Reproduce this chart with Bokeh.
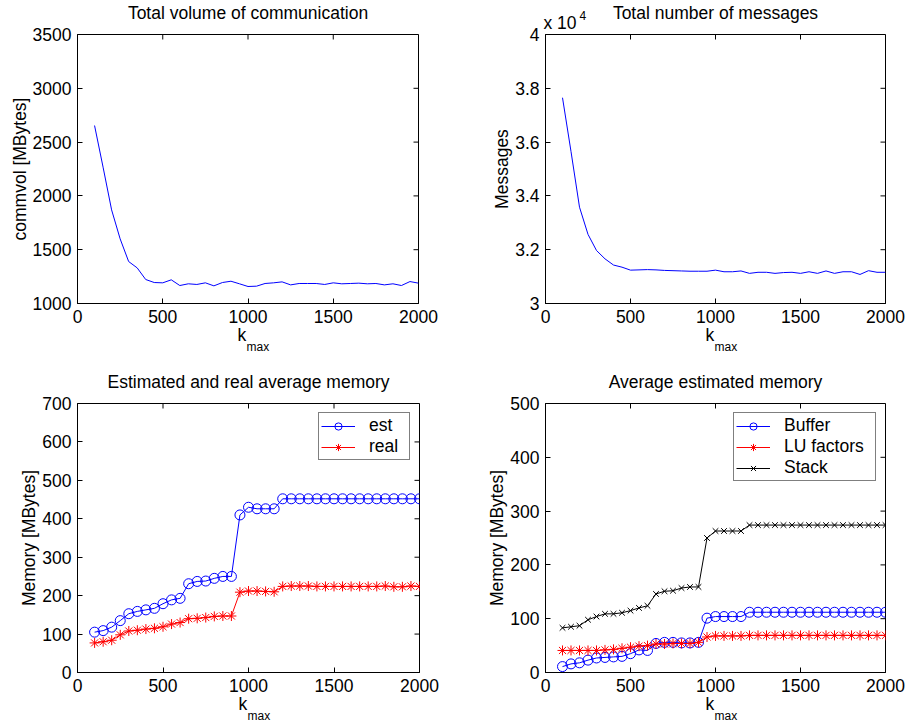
import math
from bokeh.plotting import figure
from bokeh.layouts import column, row
from bokeh.models import Range1d, FixedTicker, Label, Title, CustomJSTickFormatter
from bokeh.embed import file_html
from bokeh.resources import INLINE

# ---- data -------------------------------------------------------------
k_max = [100, 150, 200, 250, 300, 350, 400, 450, 500, 550, 600, 650, 700,
         750, 800, 850, 900, 950, 1000, 1050, 1100, 1150, 1200, 1250, 1300,
         1350, 1400, 1450, 1500, 1550, 1600, 1650, 1700, 1750, 1800, 1850,
         1900, 1950, 2000]

commvol_mb = [2654, 2267, 1870, 1601, 1390, 1331, 1223, 1195, 1192, 1220,
              1167, 1183, 1177, 1192, 1164, 1195, 1207, 1183, 1158, 1161,
              1186, 1192, 1201, 1173, 1186, 1186, 1186, 1177, 1192, 1183,
              1186, 1189, 1183, 1186, 1173, 1183, 1167, 1204, 1189]

messages = [37650, 35650, 33580, 32570, 31970, 31660, 31430, 31350, 31240,
            31250, 31260, 31250, 31230, 31220, 31210, 31200, 31200, 31200,
            31240, 31180, 31180, 31210, 31120, 31160, 31160, 31120, 31150,
            31160, 31120, 31180, 31120, 31210, 31120, 31180, 31180, 31080,
            31220, 31160, 31160]

mem_est = [105, 109, 118, 135, 153, 159, 163, 167, 179, 189, 193, 231, 237,
           238, 245, 250, 250, 410, 430, 426, 426, 426, 452, 452, 452, 452,
           452, 452, 452, 452, 452, 452, 452, 452, 452, 452, 452, 452, 452]

mem_real = [77, 80, 84, 98, 108, 110, 113, 115, 119, 126, 130, 140, 141, 143,
            146, 147, 147, 209, 212, 212, 211, 210, 224, 225, 225, 225, 224,
            224, 224, 224, 224, 224, 224, 224, 225, 223, 223, 225, 224]

mem_buffer = [11, 16, 18, 23, 27, 28, 29, 30, 35, 42, 41, 54, 56, 56, 55, 55,
              56, 101, 104, 104, 104, 104, 112, 112, 112, 112, 112, 112, 112,
              112, 112, 112, 112, 112, 112, 112, 112, 112, 112]

mem_lu = [41, 41, 41, 41, 41, 42, 43, 45, 47, 49, 50, 53, 53, 54, 54, 54, 56,
          66, 68, 68, 68, 68, 69, 69, 69, 69, 69, 69, 69, 69, 69, 69, 69, 69,
          69, 69, 69, 69, 69]

mem_stack = [83, 85, 87, 98, 104, 109, 109, 111, 115, 120, 124, 146, 151, 152,
             157, 159, 159, 250, 263, 263, 263, 263, 274, 274, 274, 274, 274,
             274, 274, 274, 274, 274, 274, 274, 274, 274, 274, 274, 274]

x_ticks = [0, 500, 1000, 1500, 2000]
commvol_ticks = [1000, 1500, 2000, 2500, 3000, 3500]
messages_ticks = [3.0, 3.2, 3.4, 3.6, 3.8, 4.0]
mem_ticks_left = [0, 100, 200, 300, 400, 500, 600, 700]
mem_ticks_right = [0, 100, 200, 300, 400, 500]

FONT = "Liberation Sans"
FS = "17.5px"
SMALL = "12px"
TICK_LEN = 5


def style_axis(ax, ticks):
    ax.ticker = FixedTicker(ticks=ticks)
    ax.major_tick_in = TICK_LEN
    ax.major_tick_out = 0
    ax.minor_tick_line_color = None
    ax.axis_line_color = "black"
    ax.major_tick_line_color = "black"
    ax.major_label_text_font = FONT
    ax.major_label_text_font_size = FS
    ax.major_label_text_color = "black"
    ax.major_label_standoff = 6
    ax.axis_label_text_font = FONT
    ax.axis_label_text_font_size = FS
    ax.axis_label_text_font_style = "normal"
    ax.axis_label_text_color = "black"
    ax.axis_label_standoff = 0


def panel(title, y_lo, y_hi, y_ticks, fw, left, right, top, bottom, ylabel):
    fh = 269
    p = figure(width=left + fw + right, height=top + fh + bottom,
               frame_width=fw, frame_height=fh,
               min_border_left=left, min_border_right=right,
               min_border_top=top, min_border_bottom=bottom,
               x_range=Range1d(0, 2000), y_range=Range1d(y_lo, y_hi),
               output_backend="svg", toolbar_location=None)
    p.xgrid.visible = False
    p.ygrid.visible = False
    p.outline_line_color = "black"
    p.background_fill_color = "white"
    p.border_fill_color = "white"

    style_axis(p.xaxis[0], x_ticks)
    style_axis(p.yaxis[0], y_ticks)
    p.yaxis[0].axis_label = ylabel

    # panel title, centred over the box
    p.add_layout(Label(x=1000, y=y_hi, text=title, text_align="center",
                       text_baseline="alphabetic", y_offset=22,
                       text_font=FONT, text_font_size=FS,
                       text_color="black"), "above")

    # inward ticks on the top and right edges of the box
    p.ray(x=x_ticks, y=[y_hi] * len(x_ticks), length=TICK_LEN,
          length_units="screen", angle=-math.pi / 2, line_color="black")
    p.ray(x=[2000] * len(y_ticks), y=y_ticks, length=TICK_LEN,
          length_units="screen", angle=math.pi, line_color="black")

    # x label: k with subscript "max"
    half = fw // 2
    p.add_layout(Title(text="k", align="left", offset=half - 10, standoff=-5,
                       text_font=FONT, text_font_size=FS,
                       text_font_style="normal", text_color="black"), "below")
    p.add_layout(Title(text="max", align="left", offset=half - 1, standoff=-9,
                       text_font=FONT, text_font_size=SMALL,
                       text_font_style="normal", text_color="black"), "below")
    return p


def style_legend(p, label_width):
    lg = p.legend[0]
    lg.location = "top_right"
    lg.label_text_font = FONT
    lg.label_text_font_size = FS
    lg.label_text_color = "black"
    lg.glyph_width = 34
    lg.glyph_height = 18
    lg.label_height = 18
    lg.label_width = label_width
    lg.label_standoff = 14
    lg.spacing = 0
    lg.padding = 2
    lg.margin = 9
    lg.border_line_color = "black"
    lg.border_line_width = 1
    lg.background_fill_color = "white"
    lg.background_fill_alpha = 1


# ---- total communication volume ------------------------------------------
p1 = panel("Total volume of communication", 1000, 3500, commvol_ticks,
           341, 77, 36, 34, 60, "commvol [MBytes]")
p1.line(k_max, commvol_mb, line_color="blue", line_width=1)

# ---- total number of messages (scaled by 10^4) ---------------------------
msgs_scaled = [m / 1e4 for m in messages]
p2 = panel("Total number of messages", 3.0, 4.0, messages_ticks,
           340, 91, 23, 34, 60, "Messages")
p2.yaxis[0].formatter = CustomJSTickFormatter(
    code="return String(Number(tick.toFixed(2)));")
p2.line(k_max, msgs_scaled, line_color="blue", line_width=1)
# scale factor written above the top-left corner of the box
p2.add_layout(Label(x=0, y=4.0, text="x 10", text_align="left",
                    text_baseline="alphabetic", y_offset=12, x_offset=-2,
                    text_font=FONT, text_font_size=FS, text_color="black"),
              "left")
p2.add_layout(Label(x=0, y=4.0, text="4", text_align="left",
                    text_baseline="alphabetic", y_offset=19, x_offset=34,
                    text_font=FONT, text_font_size=SMALL, text_color="black"),
              "right")

# ---- estimated vs. real memory -------------------------------------------
p3 = panel("Estimated and real average memory", 0, 700, mem_ticks_left,
           342, 77, 35, 40, 55, "Memory [MBytes]")
p3.line(k_max, mem_est, line_color="blue", line_width=1, legend_label="est")
p3.scatter(k_max, mem_est, marker="circle", size=10, line_color="blue",
           fill_color=None, legend_label="est")
p3.line(k_max, mem_real, line_color="red", line_width=1, legend_label="real")
p3.scatter(k_max, mem_real, marker="asterisk", size=10, line_color="red",
           legend_label="real")
style_legend(p3, 38)

# ---- breakdown of estimated memory ---------------------------------------
p4 = panel("Average estimated memory", 0, 500, mem_ticks_right,
           340, 91, 23, 40, 55, "Memory [MBytes]")
p4.line(k_max, mem_buffer, line_color="blue", line_width=1, legend_label="Buffer")
p4.scatter(k_max, mem_buffer, marker="circle", size=10, line_color="blue",
           fill_color=None, legend_label="Buffer")
p4.line(k_max, mem_lu, line_color="red", line_width=1, legend_label="LU factors")
p4.scatter(k_max, mem_lu, marker="asterisk", size=10, line_color="red",
           legend_label="LU factors")
p4.line(k_max, mem_stack, line_color="black", line_width=1, legend_label="Stack")
p4.scatter(k_max, mem_stack, marker="x", size=8, line_color="black",
           legend_label="Stack")
style_legend(p4, 89)

layout = column(row(p1, p2), row(p3, p4))

with open("out.html", "w") as f:
    f.write(file_html(layout, INLINE))
